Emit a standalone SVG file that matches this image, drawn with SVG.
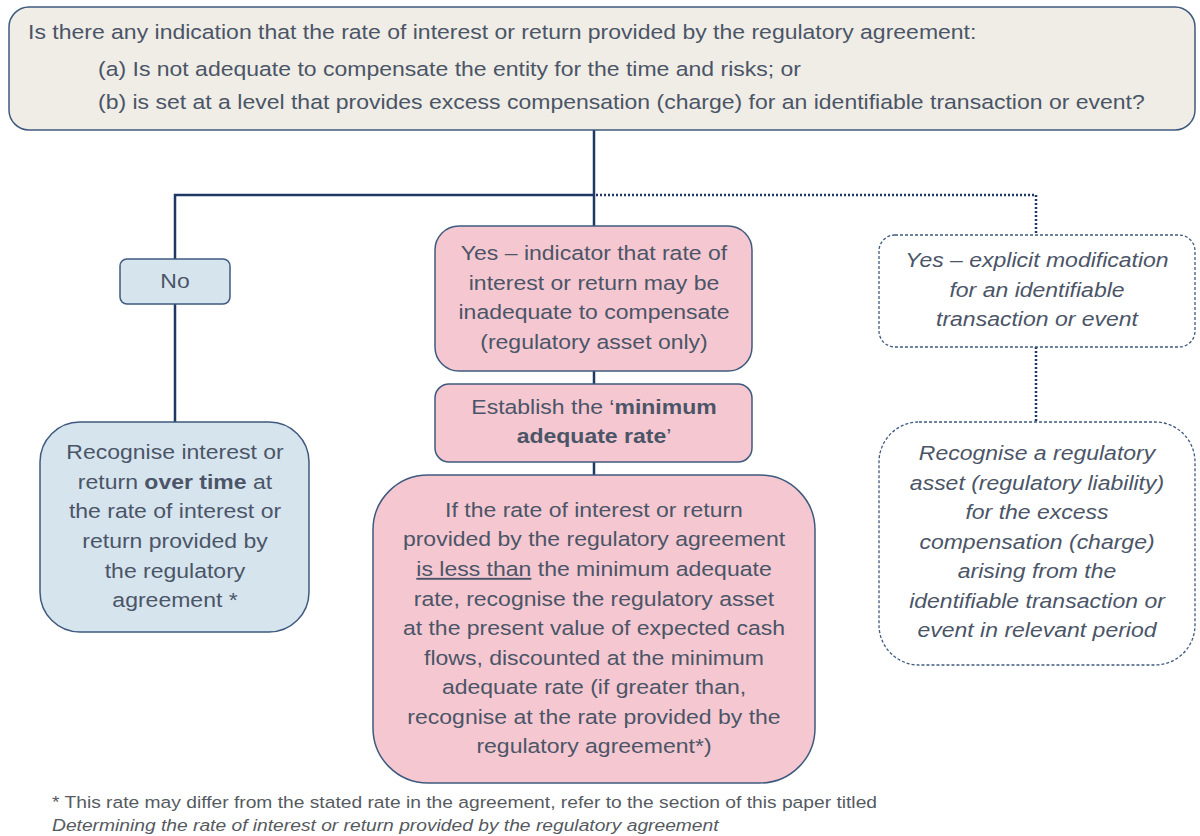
<svg xmlns="http://www.w3.org/2000/svg" width="1200" height="836" viewBox="0 0 1200 836">
  <style>
    .t { font-family: Arial, "Liberation Sans", Helvetica, sans-serif; font-size: 19.5px; fill: #4b5567; }
    .c { text-anchor: middle; }
    .i { font-style: italic; }
    .b { font-weight: bold; }
    .fn { font-family: Arial, "Liberation Sans", Helvetica, sans-serif; font-size: 16.3px; fill: #555a60; }
    .solid { stroke: #1f3864; stroke-width: 2.5; fill: none; }
    .dot { stroke: #1f3864; stroke-width: 2.5; fill: none; stroke-dasharray: 2 2; }
    .q { fill: #efede6; stroke: #3f5a7e; stroke-width: 1.5; }
    .blue { fill: #d6e4ee; stroke: #3f5a7e; stroke-width: 1.5; }
    .pink { fill: #f5c8d1; stroke: #3f5a7e; stroke-width: 1.5; }
    .open { fill: #ffffff; stroke: #3f5a7e; stroke-width: 1.3; stroke-dasharray: 3 2; }
  </style>

  <!-- connectors -->
  <g id="connectors">
    <path class="solid" d="M594 130 V226"/>
    <path class="solid" d="M594 195 H175 V259"/>
    <path class="solid" d="M175 304 V422"/>
    <path class="solid" d="M594 371 V384"/>
    <path class="solid" d="M594 462 V475"/>
    <path class="dot" d="M596 195 H1036 V235"/>
    <path class="dot" d="M1036 347 V422"/>
  </g>

  <!-- question (text set slightly wide) -->
  <g id="question">
    <rect class="q" x="9" y="7" width="1186" height="123" rx="20"/>
    <g transform="translate(28 0) scale(1.18 1)">
      <text class="t" x="0" y="39">Is there any indication that the rate of interest or return provided by the regulatory agreement:</text>
    </g>
    <g transform="translate(98 0) scale(1.18 1)">
      <text class="t" x="0" y="76">(a) Is not adequate to compensate the entity for the time and risks; or</text>
      <text class="t" x="0" y="109">(b) is set at a level that provides excess compensation (charge) for an identifiable transaction or event?</text>
    </g>
  </g>

  <!-- no branch -->
  <g id="no">
    <rect class="blue" x="120" y="259" width="110" height="45" rx="7"/>
    <g transform="translate(175 0) scale(1.18 1)">
      <text class="t c" x="0" y="288">No</text>
    </g>
  </g>

  <g id="recognise-over-time">
    <rect class="blue" x="40" y="422" width="269" height="210" rx="40"/>
    <g transform="translate(175 0) scale(1.18 1)">
      <text class="t c" x="0" y="459">Recognise interest or</text>
      <text class="t c" x="0" y="489">return <tspan class="b">over time</tspan> at</text>
      <text class="t c" x="0" y="518">the rate of interest or</text>
      <text class="t c" x="0" y="548">return provided by</text>
      <text class="t c" x="0" y="578">the regulatory</text>
      <text class="t c" x="0" y="607">agreement *</text>
    </g>
  </g>

  <!-- yes: inadequate rate -->
  <g id="yes-inadequate">
    <rect class="pink" x="435" y="226" width="317" height="145" rx="24"/>
    <g transform="translate(594 0) scale(1.18 1)">
      <text class="t c" x="0" y="260">Yes – indicator that rate of</text>
      <text class="t c" x="0" y="290">interest or return may be</text>
      <text class="t c" x="0" y="319">inadequate to compensate</text>
      <text class="t c" x="0" y="349">(regulatory asset only)</text>
    </g>
  </g>

  <g id="establish-rate">
    <rect class="pink" x="435" y="384" width="317" height="78" rx="14"/>
    <g transform="translate(594 0) scale(1.18 1)">
      <text class="t c" x="0" y="414">Establish the ‘<tspan class="b">minimum</tspan></text>
      <text class="t c" x="0" y="443"><tspan class="b">adequate rate</tspan>’</text>
    </g>
  </g>

  <g id="measure-asset">
    <rect class="pink" x="373" y="475" width="442" height="308" rx="55"/>
    <g transform="translate(594 0) scale(1.18 1)">
      <text class="t c" x="0" y="517">If the rate of interest or return</text>
      <text class="t c" x="0" y="546">provided by the regulatory agreement</text>
      <text class="t c" x="0" y="576"><tspan text-decoration="underline">is less than</tspan> the minimum adequate</text>
      <text class="t c" x="0" y="606">rate, recognise the regulatory asset</text>
      <text class="t c" x="0" y="635">at the present value of expected cash</text>
      <text class="t c" x="0" y="665">flows, discounted at the minimum</text>
      <text class="t c" x="0" y="694">adequate rate (if greater than,</text>
      <text class="t c" x="0" y="724">recognise at the rate provided by the</text>
      <text class="t c" x="0" y="753">regulatory agreement*)</text>
    </g>
  </g>

  <!-- yes: explicit modification -->
  <g id="yes-explicit">
    <rect class="open" x="879" y="235" width="316" height="112" rx="16"/>
    <g transform="translate(1037 0) scale(1.18 1)">
      <text class="t c i" x="0" y="267">Yes – explicit modification</text>
      <text class="t c i" x="0" y="297">for an identifiable</text>
      <text class="t c i" x="0" y="326">transaction or event</text>
    </g>
  </g>

  <g id="recognise-excess">
    <rect class="open" x="879" y="422" width="316" height="243" rx="40"/>
    <g transform="translate(1037 0) scale(1.18 1)">
      <text class="t c i" x="0" y="460">Recognise a regulatory</text>
      <text class="t c i" x="0" y="490">asset (regulatory liability)</text>
      <text class="t c i" x="0" y="519">for the excess</text>
      <text class="t c i" x="0" y="549">compensation (charge)</text>
      <text class="t c i" x="0" y="578">arising from the</text>
      <text class="t c i" x="0" y="608">identifiable transaction or</text>
      <text class="t c i" x="0" y="637">event in relevant period</text>
    </g>
  </g>

  <!-- footnote -->
  <g id="footnote" transform="translate(52 0) scale(1.18 1)">
    <text class="fn" x="0" y="808">* This rate may differ from the stated rate in the agreement, refer to the section of this paper titled</text>
    <text class="fn i" x="0" y="831">Determining the rate of interest or return provided by the regulatory agreement</text>
  </g>
</svg>
